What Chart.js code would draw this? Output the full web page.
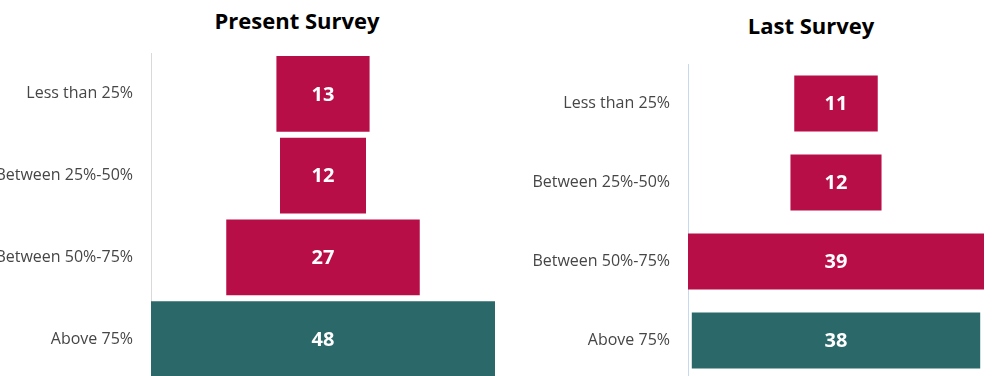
<!DOCTYPE html>
<html>
<head>
<meta charset="utf-8">
<script src="https://cdn.jsdelivr.net/npm/chart.js@4.4.1/dist/chart.umd.min.js"></script>
<style>
  body { margin: 0; width: 994px; height: 376px; overflow: hidden; background: #fff; position: relative; }
  .title { position: absolute; width: 300px; text-align: center; font: bold 22px/22px "Open Sans"; color: #000; }
  .wrap { position: absolute; top: 0; }
</style>
</head>
<body>
<div class="title" style="left:147px; top:9px;">Present Survey</div>
<div class="title" style="left:661px; top:14px;">Last Survey</div>
<div class="wrap" style="left:-40px;"><canvas id="presentChart" width="535" height="380"></canvas></div>
<div class="wrap" style="left:500px;"><canvas id="lastChart" width="494" height="380"></canvas></div>
<script>
const categories = ['Less than 25%', 'Between 25%-50%', 'Between 50%-75%', 'Above 75%'];
const presentValues = [13, 12, 27, 48];
const lastValues = [11, 12, 39, 38];
const barColors = ['#b80e48', '#b80e48', '#b80e48', '#2b6869'];

// writes each bar's value in the middle of the bar
const valueLabels = {
    id: 'valueLabels',
    afterDatasetsDraw(chart, args, opts) {
        const ctx = chart.ctx;
        const meta = chart.getDatasetMeta(0);
        ctx.save();
        ctx.fillStyle = '#fff';
        ctx.font = 'bold 20px "Open Sans"';
        ctx.textAlign = 'center';
        ctx.textBaseline = 'middle';
        meta.data.forEach((bar, i) => {
            ctx.fillText(String(opts.values[i]), (bar.x + bar.base) / 2, bar.y + 1);
        });
        ctx.restore();
    }
};

function makeFunnel(id, values, setup) {
    const half = Math.max(...values) / 2;
    return new Chart(document.getElementById(id), {
        type: 'bar',
        data: {
            labels: categories,
            datasets: [{
                // centred floating bars give the funnel shape
                data: values.map(v => [-v / 2, v / 2]),
                backgroundColor: barColors,
                borderSkipped: false,
                barPercentage: 1,
                categoryPercentage: setup.thickness
            }]
        },
        options: {
            indexAxis: 'y',
            responsive: false,
            animation: false,
            layout: { padding: { top: setup.top, right: setup.right, bottom: 0, left: 0 } },
            scales: {
                x: { type: 'linear', display: false, min: -half, max: half },
                y: {
                    grid: { display: false, drawTicks: false },
                    border: { display: true, color: setup.lineColor, width: 1 },
                    ticks: { color: '#464646', padding: 18, font: { family: 'Open Sans', size: 16 } },
                    afterFit(scale) {
                        scale.width = setup.axisWidth;
                        // let the bars run right down to the bottom edge
                        scale.paddingTop = 0;
                        scale.paddingBottom = 0;
                    }
                }
            },
            plugins: {
                legend: { display: false },
                tooltip: { enabled: false },
                valueLabels: { values: values }
            }
        },
        plugins: [valueLabels]
    });
}

makeFunnel('presentChart', presentValues, { top: 53, right: 0, axisWidth: 191, thickness: 0.925, lineColor: '#d9d9d9' });
makeFunnel('lastChart', lastValues, { top: 64, right: 10, axisWidth: 188, thickness: 0.71, lineColor: '#c6d9f0' });
</script>
</body>
</html>
